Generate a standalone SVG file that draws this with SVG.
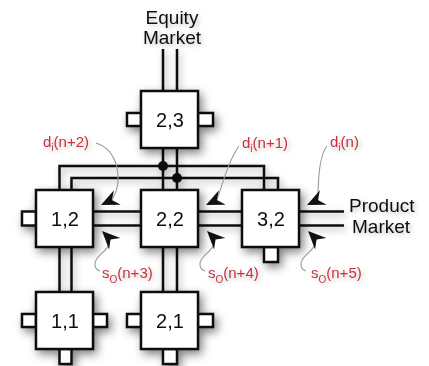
<svg xmlns="http://www.w3.org/2000/svg" xmlns:xlink="http://www.w3.org/1999/xlink" width="429" height="366" viewBox="0 0 429 366">
<style>
.box{fill:#fff;stroke:#111;stroke-width:2.5}
.stub{fill:#fff;stroke:#111;stroke-width:2.5}
.wire{fill:none;stroke:#111;stroke-width:2.5}
.lead{fill:none;stroke:#999;stroke-width:1.1}
.nl{font-family:"Liberation Sans",Arial,sans-serif;font-size:20px;fill:#111;text-anchor:middle}
.mk{font-family:"Liberation Sans",Arial,sans-serif;font-size:19px;fill:#111}
.rl{font-family:"Liberation Sans",Arial,sans-serif;font-size:15px;fill:#c8323c}
.sub{font-size:10px}
</style>
<defs>
<filter id="sh" x="-30%" y="-30%" width="160%" height="160%">
<feGaussianBlur in="SourceAlpha" stdDeviation="5"/>
<feOffset dx="3" dy="4" result="b"/>
<feComponentTransfer><feFuncA type="linear" slope="0.5"/></feComponentTransfer>
<feMerge><feMergeNode/><feMergeNode in="SourceGraphic"/></feMerge>
</filter>
<filter id="wsh" x="-10%" y="-10%" width="120%" height="120%">
<feGaussianBlur in="SourceAlpha" stdDeviation="3.5"/>
<feOffset dx="2" dy="3"/>
<feComponentTransfer><feFuncA type="linear" slope="0.35"/></feComponentTransfer>
<feMerge><feMergeNode/><feMergeNode in="SourceGraphic"/></feMerge>
</filter>
<filter id="glow" x="-20%" y="-40%" width="140%" height="180%">
<feGaussianBlur in="SourceAlpha" stdDeviation="2.5"/>
<feOffset dx="2" dy="2"/>
<feComponentTransfer><feFuncA type="linear" slope="0.25"/></feComponentTransfer>
<feMerge><feMergeNode/><feMergeNode in="SourceGraphic"/></feMerge>
</filter>
<path id="ah" d="M0,0 L-18,-8 L-12,0 L-18,8 Z" fill="#111"/>
<path id="scurve" d="M110,239 C110,252 94,255 95,265 C95,268 97,270 100,271" class="lead"/>
</defs>
<rect width="429" height="366" fill="#fff"/>

<g id="connectors" filter="url(#wsh)">
<line class="wire" x1="163" y1="49" x2="163" y2="91"/>
<line class="wire" x1="177" y1="49" x2="177" y2="91"/>
<line class="wire" x1="163" y1="148" x2="163" y2="190"/>
<line class="wire" x1="177" y1="148" x2="177" y2="190"/>
<path class="wire" d="M59.5,190 V166 H264 V190"/>
<path class="wire" d="M71.5,190 V178 H278 V190"/>
<circle cx="163" cy="166" r="5" fill="#111"/>
<circle cx="177" cy="178" r="5" fill="#111"/>
<line class="wire" x1="93" y1="211.5" x2="141" y2="211.5"/>
<line class="wire" x1="93" y1="225.5" x2="141" y2="225.5"/>
<line class="wire" x1="198" y1="211.5" x2="242" y2="211.5"/>
<line class="wire" x1="198" y1="225.5" x2="242" y2="225.5"/>
<line class="wire" x1="299" y1="211.5" x2="344" y2="211.5"/>
<line class="wire" x1="299" y1="225.5" x2="344" y2="225.5"/>
<line class="wire" x1="59.5" y1="247" x2="59.5" y2="292"/>
<line class="wire" x1="71.5" y1="247" x2="71.5" y2="292"/>
<line class="wire" x1="163" y1="247" x2="163" y2="292"/>
<line class="wire" x1="177" y1="247" x2="177" y2="292"/>
</g>

<g id="node-2-3" filter="url(#sh)">
<rect class="stub" x="127" y="113" width="14" height="13"/>
<rect class="stub" x="198" y="113" width="15" height="13"/>
<rect class="box" x="141" y="91" width="57" height="57"/>
<text class="nl" x="170" y="127">2,3</text>
</g>
<g id="node-1-2" filter="url(#sh)">
<rect class="stub" x="22" y="211.5" width="14" height="14"/>
<rect class="box" x="36" y="190" width="57" height="57"/>
<text class="nl" x="65" y="226">1,2</text>
</g>
<g id="node-2-2" filter="url(#sh)">
<rect class="box" x="141" y="190" width="57" height="57"/>
<text class="nl" x="170" y="226">2,2</text>
</g>
<g id="node-3-2" filter="url(#sh)">
<rect class="stub" x="264" y="247" width="14" height="15"/>
<rect class="box" x="242" y="190" width="57" height="57"/>
<text class="nl" x="271" y="226">3,2</text>
</g>
<g id="node-1-1" filter="url(#sh)">
<rect class="stub" x="22" y="314" width="14" height="13"/>
<rect class="stub" x="93" y="314" width="14" height="13"/>
<rect class="stub" x="59.5" y="349" width="12" height="15"/>
<rect class="box" x="36" y="292" width="57" height="57"/>
<text class="nl" x="65" y="328">1,1</text>
</g>
<g id="node-2-1" filter="url(#sh)">
<rect class="stub" x="127" y="314" width="14" height="13"/>
<rect class="stub" x="198" y="314" width="15" height="13"/>
<rect class="stub" x="163" y="349" width="14" height="15"/>
<rect class="box" x="141" y="292" width="57" height="57"/>
<text class="nl" x="170" y="328">2,1</text>
</g>

<g id="market-labels" filter="url(#glow)">
<text class="mk" x="172" y="24" text-anchor="middle">Equity</text>
<text class="mk" x="172" y="44" text-anchor="middle">Market</text>
<text class="mk" x="349" y="212">Product</text>
<text class="mk" x="352" y="233">Market</text>
</g>

<g id="leaders">
<path class="lead" d="M96,143 C118,150 124,180 112,200"/>
<path class="lead" d="M239,146 C229,160 223,182 217,200"/>
<path class="lead" d="M327,146 C320,154 318,175 318,200"/>
<use xlink:href="#scurve"/>
<use xlink:href="#scurve" transform="translate(105,0)"/>
<use xlink:href="#scurve" transform="translate(206,0)"/>
<use xlink:href="#ah" transform="translate(101,205) rotate(155)"/>
<use xlink:href="#ah" transform="translate(102,231) rotate(-135)"/>
<use xlink:href="#ah" transform="translate(206,205) rotate(155)"/>
<use xlink:href="#ah" transform="translate(207,231) rotate(-135)"/>
<use xlink:href="#ah" transform="translate(307,205) rotate(155)"/>
<use xlink:href="#ah" transform="translate(308,231) rotate(-135)"/>
</g>

<g id="signal-labels" filter="url(#glow)">
<text class="rl" x="43" y="147">d<tspan class="sub" dy="4">i</tspan><tspan dy="-4">(n+2)</tspan></text>
<text class="rl" x="242" y="148">d<tspan class="sub" dy="4">i</tspan><tspan dy="-4">(n+1)</tspan></text>
<text class="rl" x="330" y="147">d<tspan class="sub" dy="4">i</tspan><tspan dy="-4">(n)</tspan></text>
<text class="rl" x="102" y="278">s<tspan class="sub" dy="5">O</tspan><tspan dy="-5">(n+3)</tspan></text>
<text class="rl" x="208" y="278">s<tspan class="sub" dy="5">O</tspan><tspan dy="-5">(n+4)</tspan></text>
<text class="rl" x="311" y="278">s<tspan class="sub" dy="5">O</tspan><tspan dy="-5">(n+5)</tspan></text>
</g>
</svg>
